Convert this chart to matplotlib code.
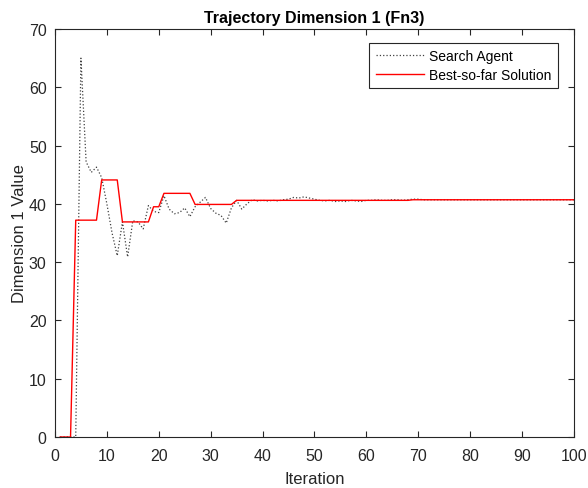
import matplotlib.pyplot as plt
import numpy as np

plt.rcParams['font.family'] = ['Liberation Sans', 'DejaVu Sans']

# trajectory of dimension 1 over iterations
iterations = np.arange(1, 101)

search_agent = [0, 0, 0, 0, 65.0, 47.2, 45.4, 46.3, 44.5, 40.0,
                35.0, 31.1, 36.9, 30.9, 37.1, 36.9, 35.7, 39.7, 38.7, 38.5,
                41.4, 39.1, 38.3, 38.5, 39.3, 37.8, 39.5, 40.3, 41.1, 39.2,
                38.4, 38.0, 36.7, 39.3, 40.6, 39.1, 40.0, 40.7, 40.5, 40.6,
                40.5, 40.6, 40.5, 40.7, 40.8, 41.1, 41.0, 41.2, 41.0, 40.8,
                40.6, 40.5, 40.6, 40.4, 40.5, 40.4, 40.6, 40.5, 40.4, 40.6,
                40.6, 40.7, 40.6, 40.6, 40.7, 40.7, 40.6, 40.7, 40.8, 40.8,
                40.7, 40.7, 40.7, 40.7, 40.7, 40.7, 40.7, 40.7, 40.7, 40.7,
                40.7, 40.7, 40.7, 40.7, 40.7, 40.7, 40.7, 40.7, 40.7, 40.7,
                40.7, 40.7, 40.7, 40.7, 40.7, 40.7, 40.7, 40.7, 40.7, 40.7]

best_so_far = ([0] * 3 + [37.2] * 5 + [44.1] * 4 + [36.9] * 6 + [39.5] * 2
               + [41.8] * 6 + [39.9] * 8 + [40.6] * 34 + [40.7] * 32)

fig = plt.figure(figsize=(5.88, 4.89), dpi=100)
ax = fig.add_axes([0.0935, 0.1043, 0.8825, 0.8344])

ax.plot(iterations, search_agent, ':', color='0.25', linewidth=0.9, label='Search Agent')
ax.plot(iterations, best_so_far, '-', color='red', linewidth=1.0, label='Best-so-far Solution')

ax.set_xlim(0, 100)
ax.set_ylim(0, 70)
ax.set_xticks(np.arange(0, 101, 10))
ax.set_yticks(np.arange(0, 71, 10))
ax.tick_params(direction='in', length=4, width=0.8, top=True, right=True,
               labelsize=11.5, colors='0.15')
ax.tick_params(axis='x', pad=8)
ax.tick_params(axis='y', pad=6)
for s in ax.spines.values():
    s.set_linewidth(0.8)
    s.set_color('0.15')

ax.set_xlabel('Iteration', fontsize=12, color='0.15', labelpad=6)
ax.set_ylabel('Dimension 1 Value', fontsize=12, color='0.15', labelpad=1)
ax.set_title('Trajectory Dimension 1 (Fn3)', fontsize=11.5, fontweight='bold', pad=5)

leg = ax.legend(loc='upper right', bbox_to_anchor=(0.969, 0.966), borderaxespad=0,
                fontsize=10, fancybox=False, framealpha=1, edgecolor='0.15',
                handlelength=3.45, handletextpad=0.4, borderpad=0.45,
                labelspacing=0.35)
leg.get_frame().set_linewidth(0.8)

fig.savefig('out.png', dpi=100)
